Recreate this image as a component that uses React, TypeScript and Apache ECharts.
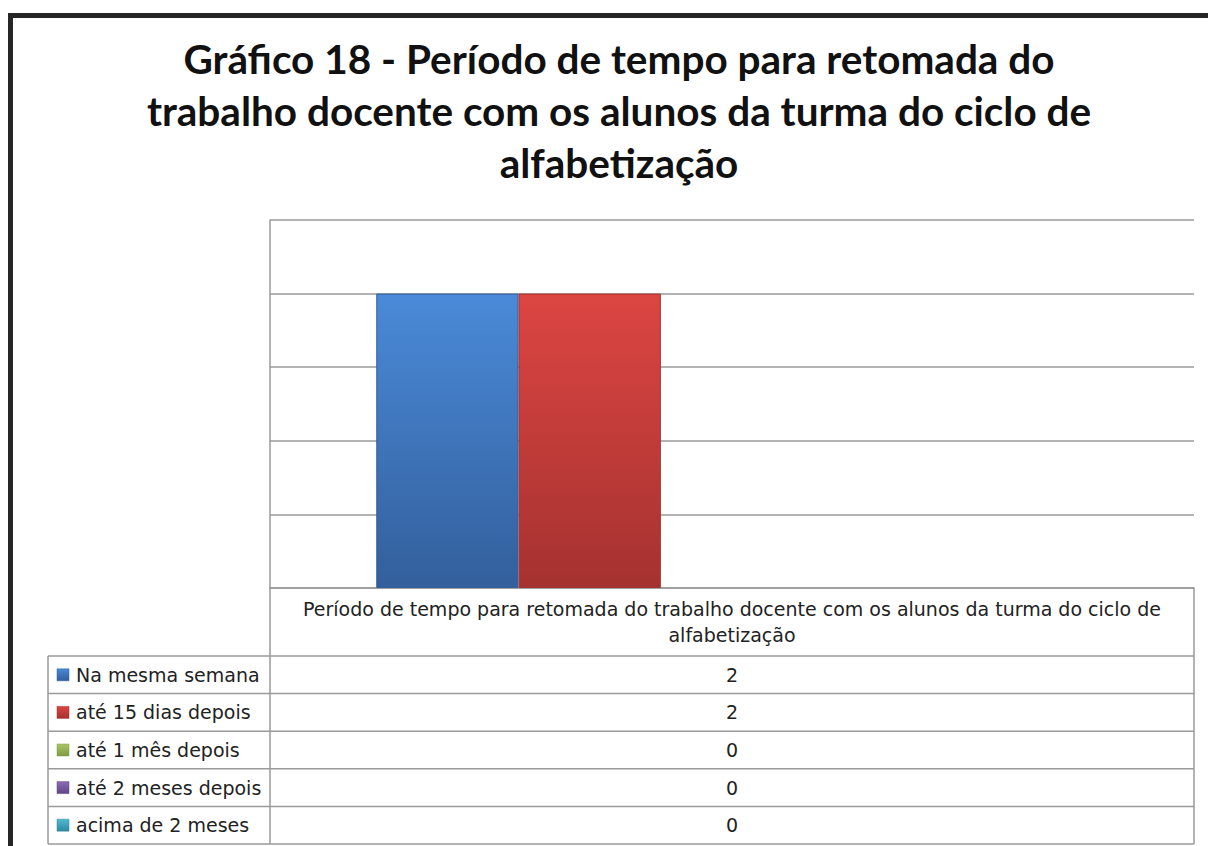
import React, { useEffect, useRef } from "react";
import * as echarts from "echarts";

const titleLines = [
  "Gráfico 18 - Período de tempo para retomada do",
  "trabalho docente com os alunos da turma do ciclo de",
  "alfabetização",
];
const categories = [
  "Período de tempo para retomada do trabalho docente com os alunos da turma do ciclo de alfabetização",
];
const seriesNames = [
  "Na mesma semana",
  "até 15 dias depois",
  "até 1 mês depois",
  "até 2 meses depois",
  "acima de 2 meses",
];
const seriesValues = [2, 2, 0, 0, 0];
const seriesTop = ["#4a8ad8", "#dc4542", "#a9c765", "#8a6bb5", "#4fb8d0"];
const seriesBottom = ["#335f9c", "#a53230", "#7f9a45", "#5f4785", "#2f8aa0"];

const W = 1208;
const H = 846;
const PLOT_L = 270;
const PLOT_R = 1194;
const PLOT_T = 220;
const PLOT_B = 588;
const TABLE_L = 48;
const HEADER_B = 656;
const ROW_H = 37.6;
const LINE = "#9a9a9a";
const FONT = "'DejaVu Sans', sans-serif";
const TFS = 19;

export default function App() {
  const ref = useRef<HTMLDivElement>(null);
  useEffect(() => {
    if (!ref.current) return;
    const chart = echarts.init(ref.current, undefined, { renderer: "svg" });

    const graphics: any[] = [];
    graphics.push({ type: "rect", shape: { x: 8, y: 13, width: W - 8, height: 5 }, style: { fill: "#262626" } });
    graphics.push({ type: "rect", shape: { x: 8, y: 13, width: 5, height: H - 13 }, style: { fill: "#262626" } });

    const line = (x1: number, y1: number, x2: number, y2: number) => ({
      type: "line",
      shape: { x1, y1, x2, y2 },
      style: { stroke: LINE, lineWidth: 1.5 },
      z: 10,
    });
    graphics.push(line(PLOT_L, PLOT_B, PLOT_L, HEADER_B));
    graphics.push(line(PLOT_R, PLOT_B, PLOT_R, HEADER_B));
    const tableBottom = HEADER_B + ROW_H * seriesNames.length;
    graphics.push(line(TABLE_L, HEADER_B, TABLE_L, tableBottom));
    graphics.push(line(PLOT_L, HEADER_B, PLOT_L, tableBottom));
    graphics.push(line(PLOT_R, HEADER_B, PLOT_R, tableBottom));
    for (let i = 0; i <= seriesNames.length; i++) {
      const y = HEADER_B + ROW_H * i;
      graphics.push(line(TABLE_L, y, PLOT_R, y));
    }
    seriesNames.forEach((name, i) => {
      const cy = HEADER_B + ROW_H * i + ROW_H / 2;
      graphics.push({
        type: "rect",
        shape: { x: 57, y: cy - 6, width: 12, height: 12 },
        style: {
          fill: new echarts.graphic.LinearGradient(0, 0, 0, 1, [
            { offset: 0, color: seriesTop[i] },
            { offset: 1, color: seriesBottom[i] },
          ]),
          stroke: seriesBottom[i],
          lineWidth: 0.5,
        },
        z: 10,
      });
      graphics.push({
        type: "text",
        x: 76,
        y: cy,
        style: { text: name, fill: "#222", font: `${TFS}px ${FONT}`, textVerticalAlign: "middle", textAlign: "left" },
        z: 10,
      });
      graphics.push({
        type: "text",
        x: (PLOT_L + PLOT_R) / 2,
        y: cy,
        style: { text: String(seriesValues[i]), fill: "#222", font: `${TFS}px ${FONT}`, textVerticalAlign: "middle", textAlign: "center" },
        z: 10,
      });
    });

    chart.setOption({
      animation: false,
      backgroundColor: "#ffffff",
      title: {
        text: titleLines.join("\n"),
        left: 614,
        top: 27,
        textAlign: "center",
        textStyle: {
          fontFamily: "Lato, sans-serif",
          fontWeight: "bold",
          fontSize: 40.5,
          lineHeight: 52,
          color: "#111",
        },
      },
      grid: { left: PLOT_L, right: W - PLOT_R, top: PLOT_T, bottom: H - PLOT_B, containLabel: false },
      xAxis: {
        type: "category",
        data: categories,
        axisLine: { show: true, lineStyle: { color: LINE, width: 1.5 } },
        axisTick: { show: false },
        axisLabel: {
          color: "#222",
          fontFamily: FONT,
          fontSize: TFS,
          lineHeight: 26,
          margin: 8,
          formatter: (v: string) => v.replace(" alfabetização", "\nalfabetização"),
        },
      },
      yAxis: {
        type: "value",
        min: 0,
        max: 2.5,
        interval: 0.5,
        axisLabel: { show: false },
        axisTick: { show: false },
        axisLine: { show: true, lineStyle: { color: LINE, width: 1.5 } },
        splitLine: { lineStyle: { color: LINE, width: 1.5 } },
      },
      series: seriesNames.map((name, i) => ({
        name,
        type: "bar",
        data: [seriesValues[i]],
        barGap: "0%",
        barCategoryGap: "23%",
        itemStyle: {
          color: new echarts.graphic.LinearGradient(0, 0, 0, 1, [
            { offset: 0, color: seriesTop[i] },
            { offset: 1, color: seriesBottom[i] },
          ]),
          borderColor: seriesBottom[i],
          borderWidth: seriesValues[i] > 0 ? 1 : 0,
        },
      })),
      graphic: graphics,
    });
    return () => chart.dispose();
  }, []);
  return <div ref={ref} style={{ position: "absolute", left: 0, top: 0, width: W, height: H }} />;
}
